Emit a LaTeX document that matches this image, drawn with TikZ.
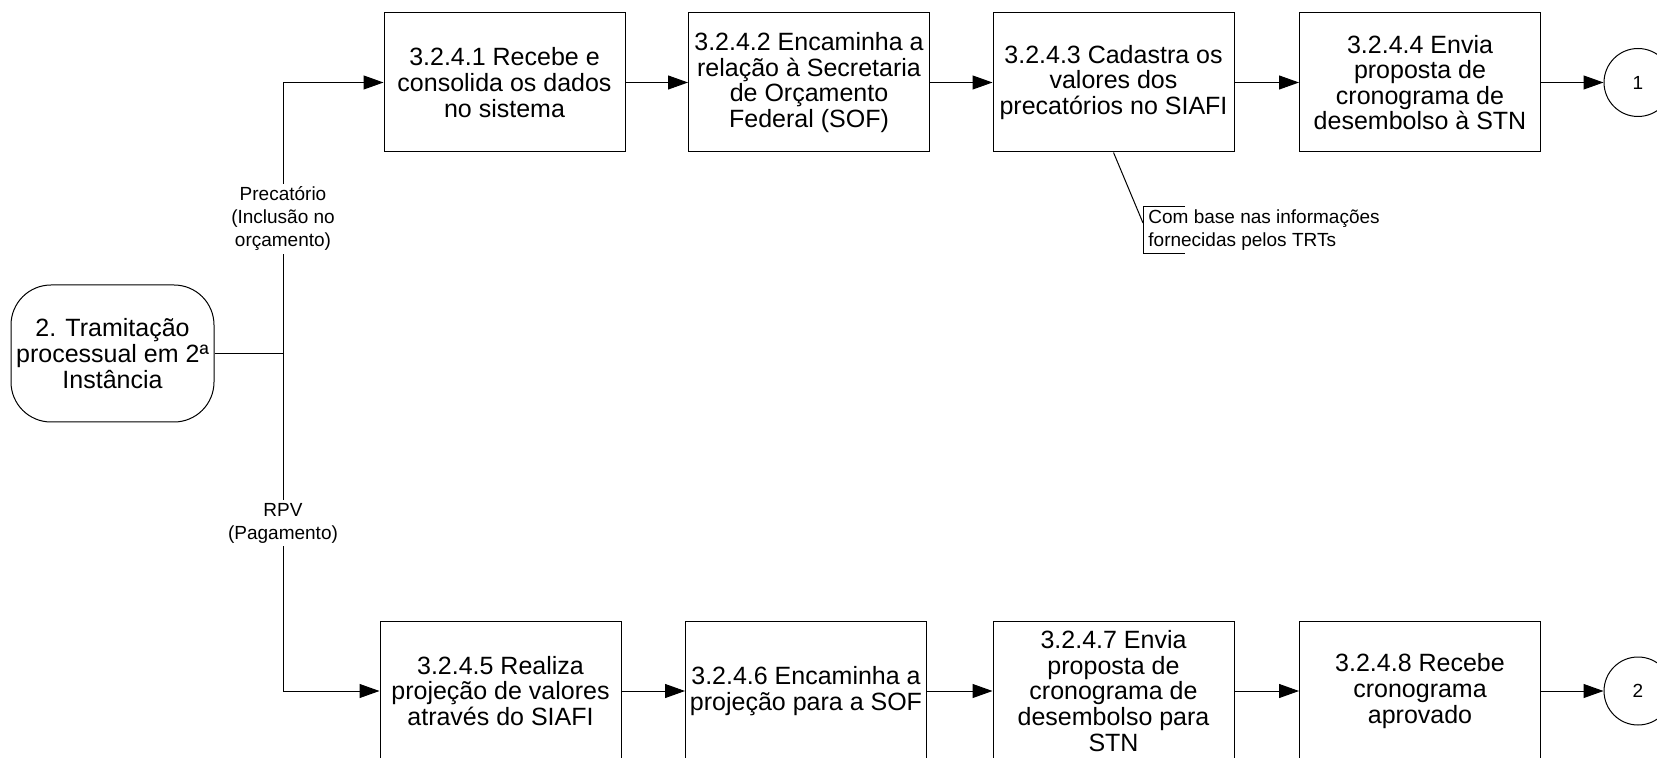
\documentclass[tikz,border=0pt]{standalone}
\usepackage{fontspec}
\setmainfont{Liberation Sans}
\usetikzlibrary{arrows.meta,calc}

\begin{document}
\begin{tikzpicture}[x=0.5pt,y=-0.5pt,
  etapa/.style={rectangle, draw, line width=0.5pt, minimum width=120.5pt, minimum height=69.5pt, inner sep=1pt, align=center, font=\fontsize{12.5}{12.8}\selectfont},
  inicio/.style={rectangle, rounded corners=20pt, draw, line width=0.5pt, minimum width=101.5pt, minimum height=68.5pt, inner sep=1pt, align=center, font=\fontsize{12.5}{12.8}\selectfont},
  conector/.style={circle, draw, line width=0.5pt, minimum size=34pt, inner sep=0pt, font=\fontsize{9.5}{11}\selectfont},
  rotulo/.style={fill=white, inner sep=1.5pt, align=center, font=\fontsize{9.5}{11.5}\selectfont},
  nota/.style={inner xsep=2.5pt, inner ysep=0pt, minimum height=23pt, align=left, font=\fontsize{9.5}{11.5}\selectfont},
  fluxo/.style={line width=0.5pt, -{Triangle[length=10pt,width=7pt]}},
  linha/.style={line width=0.5pt}]
\clip (0,0) rectangle (1657,758);
\fill[white] (0,0) rectangle (1657,758);

\node[inicio] (inicio) at (112.5,353.5) {2. Tramitação\\processual em 2ª\\Instância};
\coordinate (ramo) at (283,353.5);

% precatorio
\node[etapa] (e1) at (504.5,82.5) {3.2.4.1 Recebe e\\consolida os dados\\no sistema};
\node[etapa] (e2) at (809,82.5) {3.2.4.2 Encaminha a\\relação à Secretaria\\de Orçamento\\Federal (SOF)};
\node[etapa] (e3) at (1113.5,82.5) {3.2.4.3 Cadastra os\\valores dos\\precatórios no SIAFI};
\node[etapa] (e4) at (1420,82.5) {3.2.4.4 Envia\\proposta de\\cronograma de\\desembolso à STN};
\node[conector] (c1) at (1638,82.5) {1};

% rpv
\node[etapa] (e5) at (500.5,691) {3.2.4.5 Realiza\\projeção de valores\\através do SIAFI};
\node[etapa] (e6) at (806,691) {3.2.4.6 Encaminha a\\projeção para a SOF};
\node[etapa] (e7) at (1113.5,691) {3.2.4.7 Envia\\proposta de\\cronograma de\\desembolso para\\STN};
\node[etapa] (e8) at (1420,691) {3.2.4.8 Recebe\\cronograma\\aprovado};
\node[conector] (c2) at (1638,691) {2};

\draw[linha] (inicio) -- (ramo);
\draw[fluxo] (ramo) |- (e1);
\draw[fluxo] (ramo) |- (e5);
\draw[fluxo] (e1) -- (e2);
\draw[fluxo] (e2) -- (e3);
\draw[fluxo] (e3) -- (e4);
\draw[fluxo] (e4) -- (c1);
\draw[fluxo] (e5) -- (e6);
\draw[fluxo] (e6) -- (e7);
\draw[fluxo] (e7) -- (e8);
\draw[fluxo] (e8) -- (c2);

\node[rotulo] (lprec) at (283,219) {Precatório\\(Inclusão no\\orçamento)};
\node[rotulo] (lrpv) at (283,523) {RPV\\(Pagamento)};

% anotacao
\node[nota, anchor=west] (obs) at (1143,230) {Com base nas informações\\fornecidas pelos TRTs};
\draw[linha] (e3.south) -- ($(obs.west)+(0,-7)$);
\draw[linha] ($(obs.north west)+(42,0)$) -- (obs.north west) -- (obs.south west) -- ++(42,0);
\end{tikzpicture}
\end{document}
